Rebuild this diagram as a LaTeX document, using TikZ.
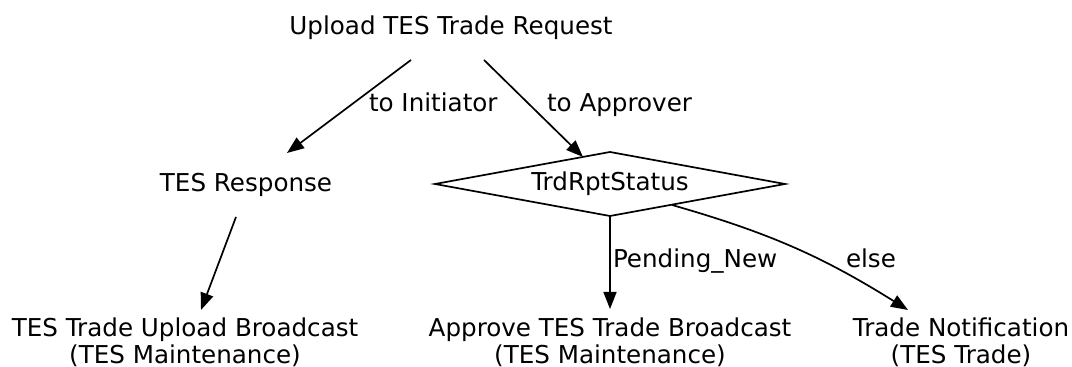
\documentclass[tikz,border=0pt]{standalone}
\usepackage{fontspec}
\setmainfont{DejaVu Sans}
\usetikzlibrary{arrows.meta,shapes.geometric,calc}
\begin{document}
\begin{tikzpicture}[x=0.5pt,y=-0.5pt,
  every node/.style={font=\fontsize{12.3}{13.5}\selectfont, inner sep=0pt, outer sep=0pt},
  lbl/.style={anchor=base},
  elbl/.style={anchor=base west},
  arr/.style={line width=0.85pt, -{Triangle[length=8.5pt,width=6.5pt]}},
  decide/.style={diamond, draw, line width=0.85pt, minimum width=175pt, minimum height=32pt, aspect=5.5}
]
\useasboundingbox (0,0) rectangle (1072,367);
\node[lbl] (up) at (451,35) {Upload TES Trade Request};
\node[lbl] (resp) at (246,192) {TES Response};
\node[decide] (dia) at (610,184) {TrdRptStatus};
\node[lbl, align=center] (upl) at (185,364) {TES Trade Upload Broadcast\\(TES Maintenance)};
\node[lbl, align=center] (app) at (610,364) {Approve TES Trade Broadcast\\(TES Maintenance)};
\node[lbl, align=center] (notif) at (961,364) {Trade Notification\\(TES Trade)};

\node[elbl] (l1) at (369,112) {to Initiator};
\node[elbl] (l2) at (547,112) {to Approver};
\node[elbl] (l3) at (613,268) {Pending\_New};
\node[elbl] (l4) at (846,268) {else};

\draw[arr] ($(up.base)+(-40,25)$) -- ($(resp.base)+(41,-39)$);
\draw[arr] ($(up.base)+(33,25)$) -- ($(dia.center)+(-27,-27)$);
\draw[arr] ($(resp.base)+(-10,25)$) -- ($(upl.base)+(16,-54)$);
\draw[arr] (dia.south) -- ($(app.base)+(0,-55)$);
\draw[arr] ($(dia.center)+(62,21)$) to[bend left=8] ($(notif.base)+(-53,-54)$);
\end{tikzpicture}
\end{document}
